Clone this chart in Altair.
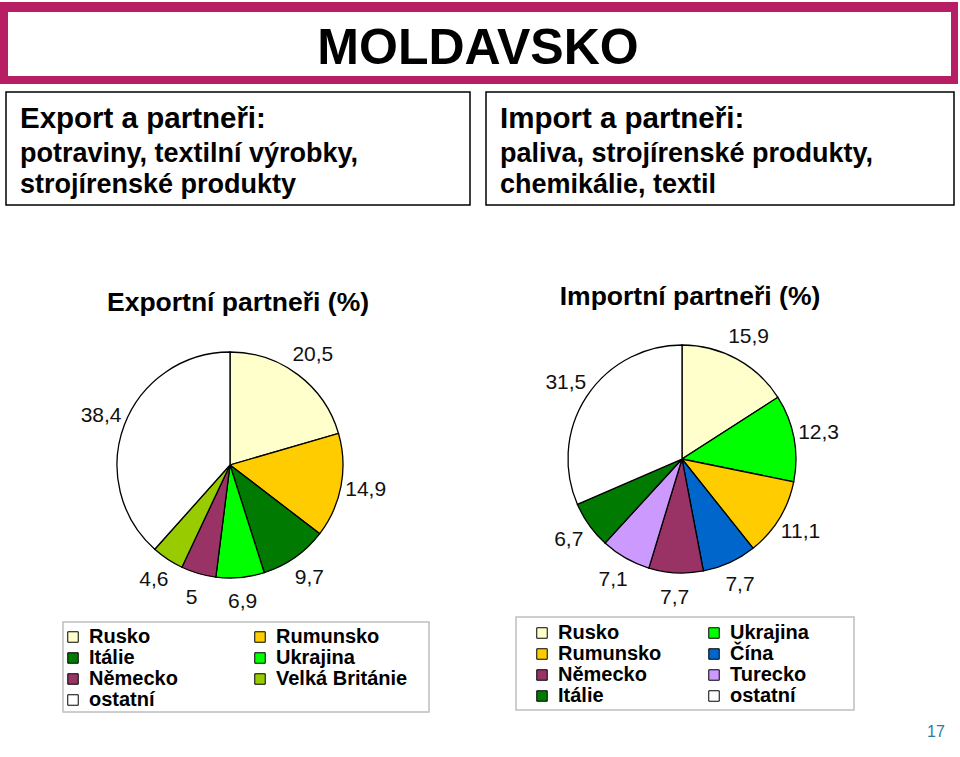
import altair as alt
import pandas as pd

# ---------------- data ----------------
exp_partners = ["Rusko", "Rumunsko", "Itálie", "Ukrajina", "Německo", "Velká Británie", "ostatní"]
exp_values = [20.5, 14.9, 9.7, 6.9, 5.0, 4.6, 38.4]
exp_labels = ["20,5", "14,9", "9,7", "6,9", "5", "4,6", "38,4"]
exp_colors = ["#FFFFCC", "#FFCC00", "#007A00", "#00FF00", "#993366", "#99CC00", "#FFFFFF"]

imp_partners = ["Rusko", "Ukrajina", "Rumunsko", "Čína", "Německo", "Turecko", "Itálie", "ostatní"]
imp_values = [15.9, 12.3, 11.1, 7.7, 7.7, 7.1, 6.7, 31.5]
imp_labels = ["15,9", "12,3", "11,1", "7,7", "7,7", "7,1", "6,7", "31,5"]
imp_colors = ["#FFFFCC", "#00FF00", "#FFCC00", "#0066CC", "#993366", "#CC99FF", "#007A00", "#FFFFFF"]

title_text = "MOLDAVSKO"
left_lines = ["Export a partneři:", "potraviny, textilní výrobky,", "strojírenské produkty"]
right_lines = ["Import a partneři:", "paliva, strojírenské produkty,", "chemikálie, textil"]
pie_titles = ["Exportní partneři (%)", "Importní partneři (%)"]
page_number = "17"

FONT = "Liberation Sans"

df_exp = pd.DataFrame({"partner": exp_partners, "value": exp_values,
                       "label": exp_labels, "idx": list(range(len(exp_partners)))})
df_imp = pd.DataFrame({"partner": imp_partners, "value": imp_values,
                       "label": imp_labels, "idx": list(range(len(imp_partners)))})

one = alt.Data(values=[{}])


def rect(x, x2, y, y2, fill, stroke=None, sw=0):
    kw = dict(fill=fill)
    if stroke:
        kw.update(stroke=stroke, strokeWidth=sw)
    return alt.Chart(one).mark_rect(**kw).encode(
        x=alt.value(x), x2=alt.value(x2), y=alt.value(y), y2=alt.value(y2))


def text(t, x, y, size, weight="normal", align="left", color="black", font=FONT):
    return alt.Chart(one).mark_text(
        font=font, fontSize=size, fontWeight=weight, align=align,
        baseline="alphabetic", color=color
    ).encode(x=alt.value(x), y=alt.value(y), text=alt.value(t))


layers = []
# banner
layers.append(rect(0, 958, 2, 84, "#B81E64"))
layers.append(rect(8, 951, 12, 76, "white"))
layers.append(text(title_text, 478, 64, 50, "bold", "center"))
# text boxes
layers.append(rect(6, 470, 92, 205, "white", "black", 1.5))
layers.append(rect(486, 954, 92, 205, "white", "black", 1.5))
for i, (ly, sz) in enumerate([(128, 29.5), (162, 27), (193, 27)]):
    layers.append(text(left_lines[i], 20, ly, sz, "bold"))
    layers.append(text(right_lines[i], 500, ly, sz, "bold"))
# pie titles
layers.append(text(pie_titles[0], 238, 311, 26.5, "bold", "center"))
layers.append(text(pie_titles[1], 690, 305, 26.5, "bold", "center"))
# legend boxes
layers.append(rect(63, 429, 622, 712, "white", "#BFBFBF", 1.5))
layers.append(rect(516, 854, 617, 710, "white", "#BFBFBF", 1.5))
layers.append(text(page_number, 936, 737, 16, "normal", "center", color="#2A7AA8"))


def pie(df, names, colors, cx, cy, r, lx, ly, colpad):
    base = alt.Chart(df)
    arcs = base.mark_arc(radius=r, stroke="black", strokeWidth=1.3).encode(
        theta=alt.Theta("value:Q", stack=True),
        order=alt.Order("idx:Q"),
        color=alt.Color("partner:N",
                        scale=alt.Scale(domain=names, range=colors),
                        legend=alt.Legend(
                            orient="none", legendX=lx, legendY=ly, columns=2,
                            direction="horizontal",
                            title=None, padding=0, columnPadding=colpad, rowPadding=1,
                            symbolType="square", symbolSize=110,
                            symbolStrokeColor="black", symbolStrokeWidth=1,
                            symbolOpacity=1, labelFont=FONT, labelFontSize=20,
                            labelFontWeight="bold", labelColor="black",
                            labelOffset=6, labelLimit=400)),
        x=alt.value(cx), y=alt.value(cy))
    labels = base.mark_text(radius=r + 25, font=FONT, fontSize=21, color="#111111").encode(
        theta=alt.Theta("value:Q", stack=True),
        order=alt.Order("idx:Q"),
        text="label:N",
        x=alt.value(cx), y=alt.value(cy))
    return [arcs, labels]


layers += pie(df_exp, exp_partners, exp_colors, 230, 465, 113, 63, 627, 72)
layers += pie(df_imp, imp_partners, imp_colors, 682, 459, 114, 532, 623, 42)

chart = alt.layer(*layers).resolve_scale(color="independent").properties(
    width=960, height=757, padding=0,
    autosize=alt.AutoSizeParams(type="none")
).configure_view(stroke=None)

chart.save("out.html", embed_options={"renderer": "svg", "actions": False})
